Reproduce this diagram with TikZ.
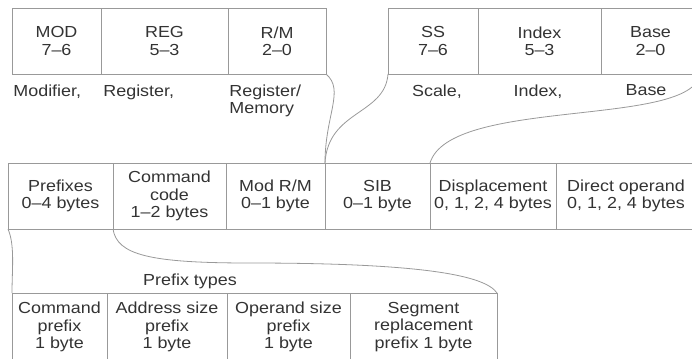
\documentclass[tikz,border=0pt]{standalone}
\usepackage{fontspec}
\setmainfont{Liberation Sans}[FakeStretch=1.12]
\usepackage{xcolor}
\usepackage{tikz}
\usetikzlibrary{positioning}
\definecolor{linegray}{rgb}{0.6,0.6,0.6}
\definecolor{txtgray}{rgb}{0.2,0.2,0.2}

\begin{document}
\begin{tikzpicture}[
  x=0.75pt, y=-0.75pt,
  line width=0.6pt,
  font=\fontsize{12pt}{13pt}\selectfont,
  cell/.style={draw=linegray, text=txtgray, align=center, inner sep=0pt, outer sep=0pt, minimum height=49.5pt},
  wd/.style={minimum width=#1*0.75pt},
  lbl/.style={text=txtgray, inner sep=0pt, align=left},
  link/.style={draw=linegray}]
  \clip (0,0) rectangle (692,358);
  \node[cell,wd=89,anchor=north west] (mod) at (12,8) {MOD\\7--6};
  \node[cell,wd=127,right=0pt of mod] (reg) {REG\\5--3};
  \node[cell,wd=98,right=0pt of reg] (rm) {R/M\\2--0};
  \node[cell,wd=90,anchor=north west] (ss) at (388,8) {SS\\7--6};
  \node[cell,wd=123,right=0pt of ss] (index) {Index\\5--3};
  \node[cell,wd=99,right=0pt of index] (base) {Base\\2--0};
  \node[lbl,anchor=base west] (modtxt) at (13,96) {Modifier,};
  \node[lbl,anchor=base west] (regtxt) at (103,96) {Register,};
  \node[lbl,anchor=north west] (rmtxt) at (229,84) {Register/\\Memory};
  \node[lbl,anchor=base] (sstxt) at (437,96) {Scale,};
  \node[lbl,anchor=base] (indextxt) at (538,96) {Index,};
  \node[lbl,anchor=base] (basetxt) at (646,95) {Base};
  \node[cell,wd=105,anchor=north west] (prefixes) at (8,163) {Prefixes\\0--4 bytes};
  \node[cell,wd=113,right=0pt of prefixes] (opcode) {Command\\code\\1--2 bytes};
  \node[cell,wd=99,right=0pt of opcode] (modrm) {Mod R/M\\0--1 byte};
  \node[cell,wd=105,right=0pt of modrm] (sib) {SIB\\0--1 byte};
  \node[cell,wd=126,right=0pt of sib] (disp) {Displacement\\0, 1, 2, 4 bytes};
  \node[cell,wd=140,right=0pt of disp] (imm) {Direct operand\\0, 1, 2, 4 bytes};
  \node[lbl,anchor=base] (types) at (190,285) {Prefix types};
  \node[cell,wd=95,minimum height=51pt,anchor=north west] (cmdpfx) at (12,293) {Command\\prefix\\1 byte};
  \node[cell,wd=120,minimum height=51pt,right=0pt of cmdpfx] (addrpfx) {Address size\\prefix\\1 byte};
  \node[cell,wd=123,minimum height=51pt,right=0pt of addrpfx] (oppfx) {Operand size\\prefix\\1 byte};
  \node[cell,wd=147,minimum height=51pt,right=0pt of oppfx] (segpfx) {Segment\\replacement\\prefix 1 byte};
  \coordinate (bend) at (250,263);
  \draw[link] (rm.south east) .. controls +(19,16) and +(0,-48) .. (modrm.north east);
  \draw[link] (ss.south west) .. controls +(-3,41) and +(3,-53) .. (modrm.north east);
  \draw[link] (base.south east) .. controls +(-8,54) and +(20,-66) .. (sib.north east);
  \draw[link] (prefixes.south west) .. controls +(7,16) and +(0,-23) .. (cmdpfx.north west);
  \draw[link] (prefixes.south east) .. controls +(4,26) and +(-100,0) .. (bend)
    .. controls +(170,0) and +(-12,-18) .. (segpfx.north east);
\end{tikzpicture}
\end{document}
